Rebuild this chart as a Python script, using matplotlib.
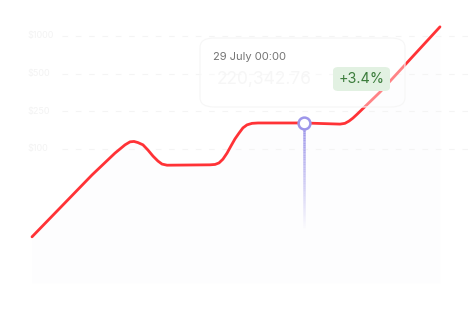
import numpy as np
import matplotlib
matplotlib.use('Agg')
import matplotlib.pyplot as plt
from matplotlib.patches import FancyBboxPatch
from matplotlib.collections import LineCollection

plt.rcParams['font.family'] = ['Inter', 'DejaVu Sans']

# days since 9 July 00:00, value on the tick-index scale ($100 = 0, $250 = 1, ...)
days = [0, 1.91, 4.41, 6.10, 6.47, 6.84, 7.21, 7.50, 7.79, 8.16, 8.53, 8.90,
        9.26, 9.56, 9.93, 13.09, 13.46, 13.75, 14.04, 14.34, 14.63, 14.93,
        15.22, 15.51, 15.81, 16.18, 16.62, 20.0, 22.65, 23.01, 23.31, 23.60,
        23.90, 25.59, 30.0]
values = [-2.33, -1.62, -0.69, -0.11, 0.00, 0.11, 0.19, 0.20, 0.17, 0.11, -0.03, -0.19,
          -0.32, -0.40, -0.43, -0.42, -0.41, -0.37, -0.27, -0.11, 0.08, 0.27,
          0.42, 0.56, 0.64, 0.68, 0.69, 0.69, 0.66, 0.68, 0.74, 0.82,
          0.92, 1.51, 3.24]

tick_pos = [0, 1, 2, 3]
tick_labels = ['$100', '$250', '$500', '$1000']

hover_day = 20.0
hover_value = 0.69
hover_date = '29 July 00:00'
hover_price = '220,342.76'
hover_change = '+3.4%'

LINE = '#ff3236'
PURPLE = '#9d96ea'

fig = plt.figure(figsize=(4.68, 3.14), dpi=100)
ax = fig.add_axes([0, 0, 1, 1])
ax.set_xlim(-2.353, 32.06)
ax.set_ylim(-4.377, 3.952)
ax.axis('off')

# faint dashed grid + almost-white labels
for p, lab in zip(tick_pos, tick_labels):
    ax.plot([2.2, 32.06], [p, p], color='#f4f4f4', lw=0.8,
            dashes=(5, 7), zorder=1)
    ax.text(-0.3, p, lab, color='#f3f3f3', fontsize=6.5, va='center',
            ha='left', zorder=1)

# barely visible area under the curve
ax.fill_between(days, values, -3.55, color='#fdfdfe', lw=0, zorder=0)

ax.plot(days, values, color=LINE, lw=2.0, solid_capstyle='round',
        solid_joinstyle='round', zorder=3)

# crosshair fading downwards
ys = np.linspace(hover_value - 0.15, -2.15, 60)
segs = [[(hover_day, ys[i]), (hover_day, ys[i + 1])] for i in range(len(ys) - 1)]
alphas = np.linspace(1.0, 0.0, len(segs))
cols = [matplotlib.colors.to_rgba(PURPLE, a) for a in alphas]
ax.add_collection(LineCollection(segs, colors=cols, linewidths=1.8, zorder=4))
ax.plot([hover_day], [hover_value], 'o', ms=8.5, mfc='white', mec=PURPLE,
        mew=1.8, zorder=5)

# tooltip
W, H = 468, 314
box = FancyBboxPatch((200 / W, 1 - 107 / H), 205 / W, 69 / H,
                     boxstyle='round,pad=0,rounding_size=0.03',
                     transform=fig.transFigure, fc=(1, 1, 1, 0.4),
                     ec='#f6f6f6', lw=0.8, zorder=6)
fig.patches.append(box)
fig.text(213 / W, 1 - 57 / H, hover_date, color='#747474', fontsize=8.0,
         va='center', ha='left', zorder=7)
fig.text(217 / W, 1 - 79 / H, hover_price, color='#f6f6f6', fontsize=12.5,
         va='center', ha='left', zorder=7)
badge = FancyBboxPatch((333 / W, 1 - 91 / H), 57 / W, 24 / H,
                       boxstyle='round,pad=0,rounding_size=0.012',
                       transform=fig.transFigure, fc='#e2f1e2', ec='none',
                       zorder=7)
fig.patches.append(badge)
fig.text(361.5 / W, 1 - 79 / H, hover_change, color='#3b7c3b', fontsize=10.3,
         va='center', ha='center', zorder=8)

fig.savefig('out.png', dpi=100, facecolor='white')
